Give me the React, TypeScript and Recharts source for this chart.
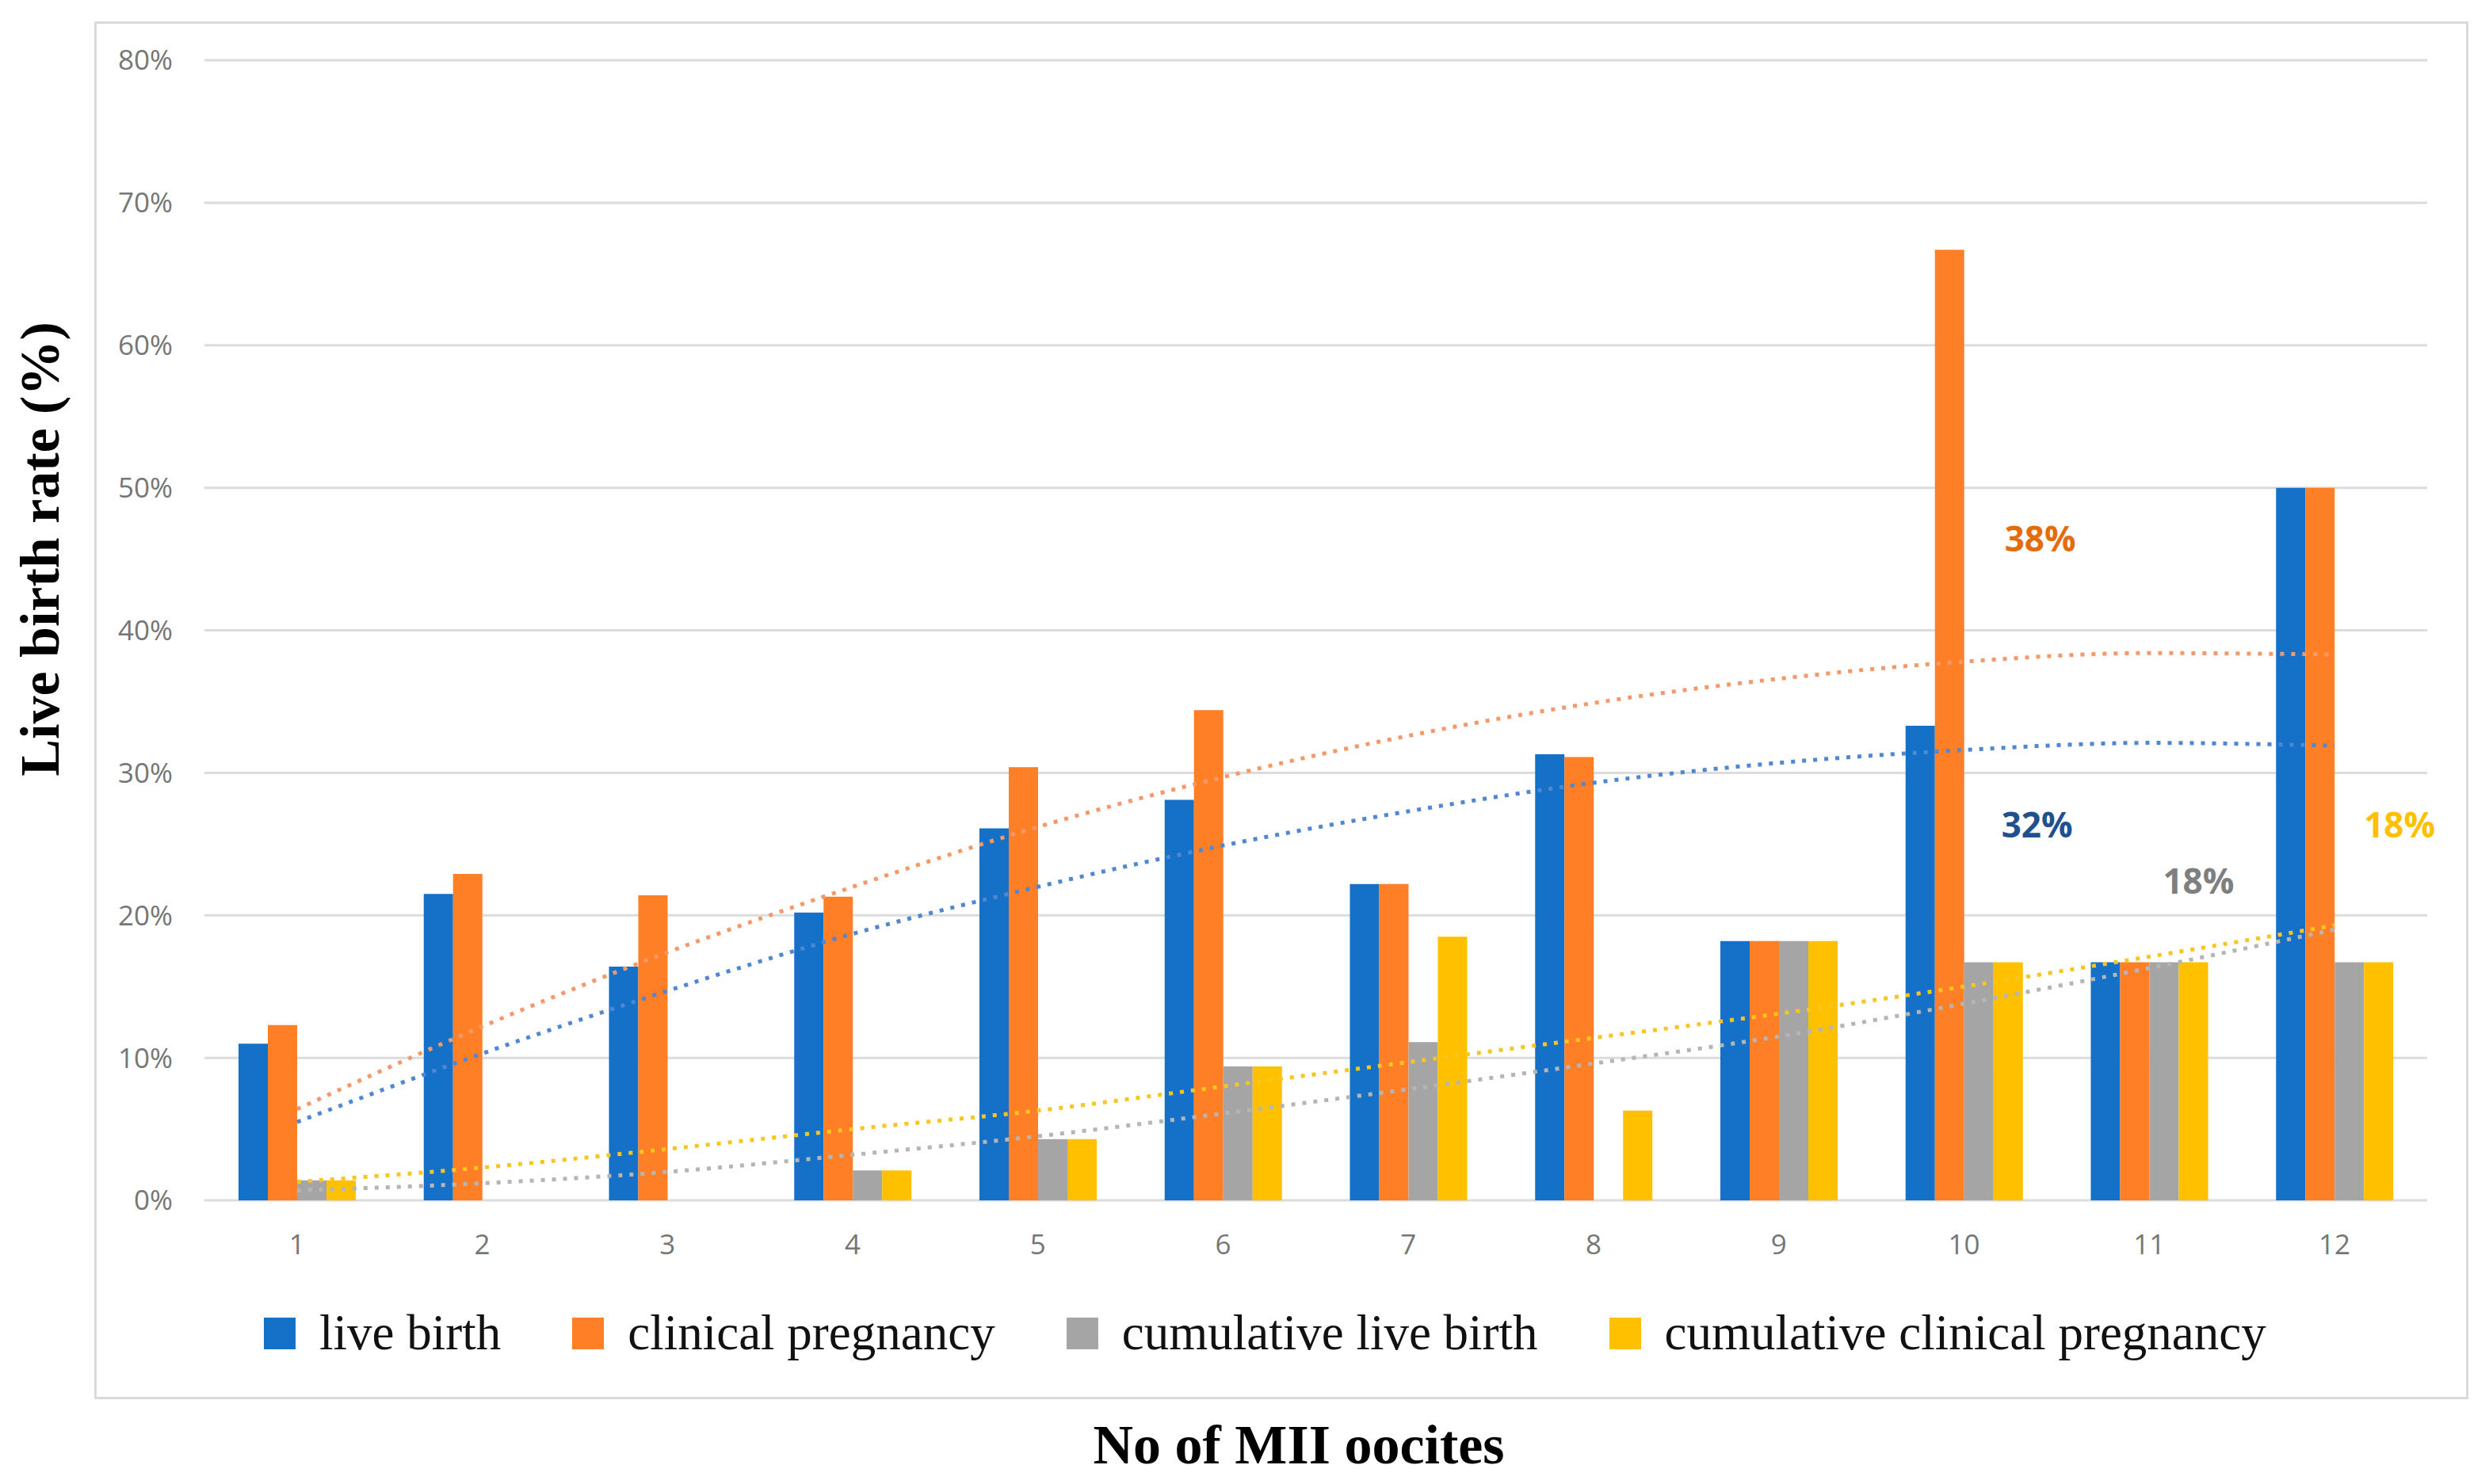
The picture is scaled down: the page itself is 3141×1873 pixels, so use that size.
import { Bar, CartesianGrid, ComposedChart, Line, ReferenceDot, XAxis, YAxis } from "recharts";

const W = 3141;
const H = 1873;

// number of MII oocytes
const OOCYTES = ["1", "2", "3", "4", "5", "6", "7", "8", "9", "10", "11", "12"];

// rates in %
const LIVE_BIRTH = [11.0, 21.5, 16.4, 20.2, 26.1, 28.1, 22.2, 31.3, 18.2, 33.3, 16.7, 50.0];
const CLINICAL_PREGNANCY = [12.3, 22.9, 21.4, 21.3, 30.4, 34.4, 22.2, 31.1, 18.2, 66.7, 16.7, 50.0];
const CUM_LIVE_BIRTH = [1.4, 0, 0, 2.1, 4.3, 9.4, 11.1, 0, 18.2, 16.7, 16.7, 16.7];
const CUM_CLINICAL_PREGNANCY = [1.4, 0, 0, 2.1, 4.3, 9.4, 18.5, 6.3, 18.2, 16.7, 16.7, 16.7];

// dotted trend lines at each category
const TREND_LIVE_BIRTH = [5.5, 10.3, 14.7, 18.7, 22.0, 24.9, 27.3, 29.3, 30.7, 31.6, 32.1, 31.9];
const TREND_CLINICAL_PREGNANCY = [6.4, 12.2, 17.4, 22.0, 26.2, 29.7, 32.6, 34.9, 36.6, 37.8, 38.4, 38.3];
const TREND_CUM_LIVE_BIRTH = [0.7, 1.2, 2.0, 3.2, 4.5, 6.1, 7.8, 9.6, 11.5, 13.8, 16.3, 19.0];
const TREND_CUM_CLINICAL_PREGNANCY = [1.3, 2.3, 3.6, 5.0, 6.3, 8.0, 9.7, 11.4, 13.1, 15.0, 17.1, 19.3];

const Y_TICKS = [0, 10, 20, 30, 40, 50, 60, 70, 80];

const SERIES = [
  { key: "live", trend: "liveTrend", name: "live birth", color: "#1570C8", trendColor: "#4F87D2" },
  { key: "clinical", trend: "clinicalTrend", name: "clinical pregnancy", color: "#FF7F27", trendColor: "#F5996A" },
  { key: "cumLive", trend: "cumLiveTrend", name: "cumulative live birth", color: "#A5A5A5", trendColor: "#B5B5B5" },
  { key: "cumClinical", trend: "cumClinicalTrend", name: "cumulative clinical pregnancy", color: "#FFC000", trendColor: "#F9C520" }
];

// end-of-trend labels
const TREND_LABELS = [
  { text: "38%", color: "#E46C0A", x: "10", y: 46.4, dx: 96 },
  { text: "32%", color: "#21508F", x: "10", y: 26.35, dx: 92 },
  { text: "18%", color: "#7F7F7F", x: "11", y: 22.4, dx: 62 },
  { text: "18%", color: "#FFC000", x: "12", y: 26.35, dx: 82 }
];

const data = OOCYTES.map((n, i) => ({
  n,
  live: LIVE_BIRTH[i],
  clinical: CLINICAL_PREGNANCY[i],
  cumLive: CUM_LIVE_BIRTH[i],
  cumClinical: CUM_CLINICAL_PREGNANCY[i],
  liveTrend: TREND_LIVE_BIRTH[i],
  clinicalTrend: TREND_CLINICAL_PREGNANCY[i],
  cumLiveTrend: TREND_CUM_LIVE_BIRTH[i],
  cumClinicalTrend: TREND_CUM_CLINICAL_PREGNANCY[i]
}));

const tickStyle = { fill: "#767676", fontSize: 35, fontFamily: "Open Sans" };
const serif = "'Liberation Serif', 'Times New Roman', serif";

export default function App() {
  return (
    <div style={{ position: "absolute", left: 0, top: 0, width: W, height: H, background: "#fff", overflow: "hidden" }}>
      <div
        style={{
          position: "absolute",
          left: 119,
          top: 27,
          width: 3115 - 119,
          height: 1766 - 27,
          border: "3px solid #dadada",
          boxSizing: "border-box"
        }}
      />
      <div style={{ position: "absolute", left: 0, top: 0 }}>
        <ComposedChart
          width={W}
          height={H}
          data={data}
          margin={{ top: 76, right: 78, bottom: 298, left: 108 }}
          barGap={0}
          barSize={37}
        >
          <CartesianGrid vertical={false} stroke="#dcdcdc" strokeWidth={3} />
          <XAxis
            dataKey="n"
            axisLine={false}
            tickLine={false}
            tickSize={0}
            tickMargin={43}
            height={60}
            interval={0}
            tick={tickStyle}
          />
          <YAxis
            domain={[0, 80]}
            ticks={Y_TICKS}
            tickFormatter={(v) => `${v}%`}
            axisLine={false}
            tickLine={false}
            tickSize={0}
            tickMargin={40}
            width={150}
            interval={0}
            tick={tickStyle}
          />
          {SERIES.map((s) => (
            <Bar key={s.key} dataKey={s.key} name={s.name} fill={s.color} isAnimationActive={false} />
          ))}
          {SERIES.map((s) => (
            <Line
              key={s.trend}
              dataKey={s.trend}
              type="monotone"
              stroke={s.trendColor}
              strokeWidth={5}
              strokeDasharray="5 9"
              dot={false}
              activeDot={false}
              legendType="none"
              isAnimationActive={false}
            />
          ))}
          {TREND_LABELS.map((l, i) => (
            <ReferenceDot
              key={i}
              x={l.x}
              y={l.y}
              r={0}
              shape={(p: any) => (
                <text
                  x={p.cx + l.dx}
                  y={p.cy + 16}
                  textAnchor="middle"
                  fill={l.color}
                  fontSize={44}
                  fontWeight={700}
                  fontFamily="Open Sans"
                >
                  {l.text}
                </text>
              )}
            />
          ))}
        </ComposedChart>
      </div>

      <div
        style={{
          position: "absolute",
          left: 333,
          top: 1651,
          display: "flex",
          alignItems: "center",
          gap: 90,
          fontFamily: serif,
          fontSize: 63,
          lineHeight: 1,
          color: "#111",
          whiteSpace: "nowrap"
        }}
      >
        {SERIES.map((s) => (
          <div key={s.key} style={{ display: "flex", alignItems: "center", gap: 30 }}>
            <span style={{ display: "inline-block", width: 40, height: 40, background: s.color }} />
            <span>{s.name}</span>
          </div>
        ))}
      </div>

      <svg width={W} height={H} style={{ position: "absolute", left: 0, top: 0, pointerEvents: "none" }}>
        <text
          transform="translate(74, 693) rotate(-90)"
          textAnchor="middle"
          fontFamily={serif}
          fontWeight={700}
          fontSize={70}
          fill="#000"
        >
          Live birth rate (%)
        </text>
        <text x={1639} y={1847} textAnchor="middle" fontFamily={serif} fontWeight={700} fontSize={70} fill="#000">
          No of MII oocites
        </text>
      </svg>
    </div>
  );
}
